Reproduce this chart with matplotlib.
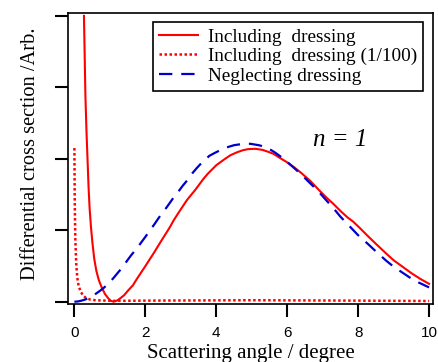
import matplotlib.pyplot as plt
import numpy as np

# curves
incl_x = [0.27, 0.29, 0.31, 0.34, 0.37, 0.40, 0.43, 0.47, 0.51, 0.56, 0.62, 0.69,
          0.77, 0.86, 0.95, 1.02, 1.10, 1.20, 1.30, 1.40, 1.52, 1.65, 1.75, 1.87,
          1.99, 2.12, 2.25, 2.36, 2.46, 2.60, 2.70, 2.80, 2.93, 3.05, 3.17, 3.30,
          3.40, 3.52, 3.64, 3.76, 3.90, 4.00, 4.11, 4.25, 4.40, 4.58, 4.75, 4.90,
          5.10, 5.30, 5.45, 5.61, 5.80, 6.00, 6.20, 6.40, 6.65, 6.90, 7.10, 7.30,
          7.50, 7.70, 7.86, 8.05, 8.25, 8.50, 8.80, 9.00, 9.25, 9.50, 9.75, 10.0]
incl_y = [4.00, 3.45, 2.90, 2.40, 2.00, 1.60, 1.30, 1.03, 0.82, 0.60, 0.43, 0.30,
          0.20, 0.11, 0.05, 0.015, 0.0, 0.015, 0.05, 0.09, 0.16, 0.23, 0.31, 0.40,
          0.49, 0.59, 0.69, 0.78, 0.86, 0.97, 1.05, 1.14, 1.24, 1.33, 1.42, 1.50,
          1.56, 1.64, 1.72, 1.79, 1.86, 1.91, 1.95, 2.00, 2.05, 2.09, 2.12, 2.135,
          2.14, 2.125, 2.10, 2.07, 2.01, 1.95, 1.88, 1.80, 1.69, 1.56, 1.46, 1.37,
          1.27, 1.18, 1.12, 1.03, 0.93, 0.81, 0.67, 0.58, 0.49, 0.40, 0.32, 0.25]

scaled_x = [0.0, 0.01, 0.025, 0.05, 0.08, 0.12, 0.18, 0.24, 0.33, 0.45, 0.6,
            1.1, 2.0, 5.0, 8.0, 10.0]
scaled_y = [2.15, 1.40, 0.90, 0.55, 0.34, 0.22, 0.14, 0.09, 0.05, 0.03, 0.02,
            0.012, 0.015, 0.021, 0.015, 0.01]

negl_x = [0.0, 0.1, 0.2, 0.3, 0.4, 0.5, 0.6, 0.7, 0.82, 0.95, 1.1, 1.25, 1.37,
          1.48, 1.6, 1.75, 1.87, 1.99, 2.12, 2.25, 2.36, 2.46, 2.6, 2.7, 2.8,
          2.93, 3.05, 3.2, 3.33, 3.45, 3.6, 3.7, 3.8, 3.95, 4.11, 4.3, 4.5, 4.7,
          4.96, 5.2, 5.42, 5.65, 5.9, 6.15, 6.4, 6.6, 6.85, 7.1, 7.3, 7.5, 7.77,
          8.0, 8.25, 8.53, 8.8, 9.0, 9.18, 9.45, 9.7, 10.0]
negl_y = [0.0, 0.004, 0.015, 0.03, 0.05, 0.075, 0.11, 0.145, 0.19, 0.25, 0.33,
          0.42, 0.49, 0.57, 0.65, 0.74, 0.82, 0.90, 0.99, 1.08, 1.16, 1.23, 1.32,
          1.39, 1.46, 1.54, 1.62, 1.71, 1.80, 1.87, 1.95, 1.99, 2.04, 2.08, 2.12,
          2.16, 2.19, 2.205, 2.21, 2.19, 2.16, 2.09, 2.00, 1.89, 1.78, 1.68, 1.56,
          1.42, 1.31, 1.19, 1.05, 0.93, 0.82, 0.69, 0.57, 0.49, 0.43, 0.34, 0.27,
          0.20]

labels = ['Including  dressing', 'Including  dressing (1/100)', 'Neglecting dressing']

serif = 'Liberation Serif'
plt.rcParams['font.family'] = 'Liberation Sans'

fig = plt.figure(figsize=(4.38, 3.62), dpi=100)
ax = fig.add_axes([68 / 438, 1 - 304 / 362, 365 / 438, 291 / 362])

ax.plot(incl_x, incl_y, color='#ff0000', lw=1.5, label=labels[0])
ax.plot(scaled_x, scaled_y, color='#ff0000', lw=1.8, dashes=(1, 1), label=labels[1])
ax.plot(negl_x, negl_y, color='#0000cc', lw=1.6, dashes=(6, 4), label=labels[2])

ax.set_xlim(-0.18, 10.11)
ax.set_ylim(-0.032, 4.04)
ax.set_xticks([0, 2, 4, 6, 8, 10])
ax.set_yticks([0, 1, 2, 3, 4])
ax.set_yticklabels([])
ax.tick_params(direction='out', length=9.5, width=1.5, labelsize=11, pad=6)
for s in ax.spines.values():
    s.set_linewidth(1.2)

ax.set_xlabel('Scattering angle / degree', family=serif, fontsize=15, labelpad=3)
ax.set_ylabel('Differential cross section /Arb.', family=serif, fontsize=14.7, labelpad=5)
ax.yaxis.label.set_y(0.517)

ax.text(7.48, 2.26, 'n = 1', family=serif, style='italic', fontsize=18,
        ha='center', va='center')

leg = ax.legend(loc='upper right', bbox_to_anchor=(0.9726, 0.969), borderaxespad=0,
                prop={'family': serif, 'size': 13.9}, fancybox=False, framealpha=1,
                edgecolor='black', handlelength=2, handletextpad=0.5,
                labelspacing=0.1, borderpad=0.32)
leg.get_frame().set_linewidth(1.2)

fig.savefig('out.png', dpi=100)
